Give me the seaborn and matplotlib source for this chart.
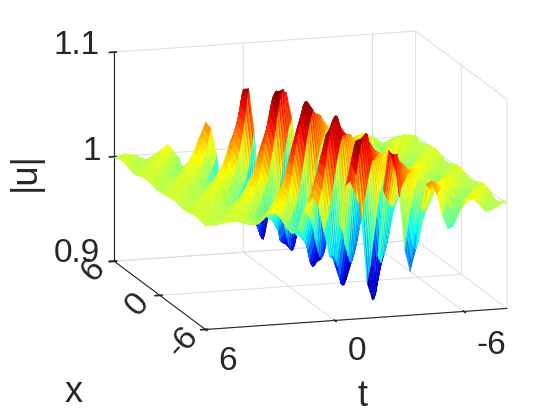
import numpy as np
import matplotlib
matplotlib.use("Agg")
import matplotlib.pyplot as plt
import seaborn as sns

# grid of the surface, finer where the ripples are strong
t_vals = [6, 5.5, 5, 4.5, 4, 3.5, 3,
          2.75, 2.5, 2.25, 2, 1.75, 1.5, 1.25, 1, 0.75, 0.5, 0.25, 0,
          -0.25, -0.5, -0.75, -1, -1.25, -1.5, -1.75, -2, -2.25, -2.5, -2.75, -3,
          -3.25, -3.5, -3.75, -4, -4.25, -4.5, -4.75, -5, -5.25, -5.5,
          -6, -6.5, -7, -7.5, -8]
x_vals = [-6, -5.5, -5, -4.5, -4, -3.5, -3, -2.5, -2, -1.5, -1, -0.5, 0,
          0.5, 1, 1.5, 2, 2.5, 3, 3.5, 4, 4.5, 5, 5.5, 6]

# |u|, as thousandths away from 1, one row per x
u_milli = [
    [-1,-1,1,1,-3,-2,7, 6,1,-8,-14,-11,2,14,19,10,-14,-38,-39,-9,28,50,38,-7,-66,-83,-41,22,59,53,14,-37,-58,-38,0,24,27,13,-7,-20,-18, 6,6,-6,-3,3],
    [0,-1,0,2,-1,-6,3, 7,7,2,-9,-17,-14,1,16,23,14,-12,-42,-47,-16,27,54,46,1,-63,-85,-48,15,53,51,18,-28,-51,-37,-4,19,23,13,-4,-17, -6,8,1,-5,0],
    [1,0,-2,1,2,-5,-5, 2,7,8,3,-9,-19,-17,-1,17,27,19,-10,-45,-55,-24,25,58,52,8,-57,-84,-54,8,46,49,20,-20,-43,-35,-7,14,20,12,-1, -14,2,5,-3,-3],
    [1,1,-2,-1,3,0,-9, -6,2,9,12,6,-9,-25,-25,-5,20,35,27,-6,-53,-69,-37,23,61,58,15,-48,-78,-52,2,35,40,19,-11,-32,-27,-8,9,15,10, -10,-6,5,1,-4],
    [0,1,0,-2,1,4,-6, -10,-8,1,10,15,8,-9,-28,-31,-10,20,40,34,0,-54,-77,-46,17,59,60,21,-38,-70,-52,-4,28,35,19,-6,-26,-25,-9,6,12, 2,-10,1,4,-1],
    [-1,1,1,-2,-2,5,2, -6,-12,-11,-1,11,17,12,-7,-31,-38,-16,19,44,41,6,-53,-82,-54,10,55,60,25,-29,-62,-50,-9,22,31,19,-2,-21,-22,-10,4, 10,-6,-6,3,2],
    [-1,0,2,0,-4,1,7, 3,-5,-14,-14,-3,11,20,15,-4,-33,-44,-23,17,47,48,13,-49,-84,-62,3,49,59,29,-20,-54,-47,-13,17,27,18,1,-16,-19,-10, 10,3,-8,-1,3],
    [0,-1,1,2,-2,-4,6, 8,4,-5,-16,-17,-5,11,23,20,-1,-35,-51,-32,14,50,55,20,-43,-84,-67,-5,43,55,30,-12,-45,-43,-15,12,22,17,2,-13,-17, 1,8,-3,-5,2],
    [1,-2,-1,3,1,-8,0, 7,11,7,-5,-20,-24,-10,13,30,28,4,-40,-65,-45,10,54,62,27,-36,-79,-66,-12,32,45,27,-5,-33,-34,-14,7,16,13,3,-8, -8,5,2,-4,-1],
    [1,0,-3,1,4,-4,-9, -1,7,13,10,-3,-22,-29,-15,12,33,34,9,-40,-72,-55,4,51,65,33,-26,-72,-64,-17,25,40,27,0,-26,-30,-15,4,13,12,4, -10,-1,4,-1,-2],
    [0,2,-2,-3,3,3,-10, -10,-3,8,15,12,-1,-23,-35,-21,10,36,41,15,-38,-77,-64,-3,48,65,37,-17,-63,-61,-21,18,34,25,3,-20,-26,-14,2,11,11, -4,-7,2,2,-2],
    [-1,2,1,-4,0,6,-3, -11,-13,-5,8,17,16,2,-25,-40,-28,8,39,48,21,-34,-79,-71,-12,42,63,40,-9,-53,-57,-24,13,29,24,5,-15,-22,-14,1,9, 4,-7,-2,3,0],
    [-1,0,2,-2,-4,4,5, -2,-12,-16,-8,7,19,20,5,-25,-46,-36,4,41,54,29,-28,-79,-76,-20,36,59,41,-1,-44,-51,-25,8,24,21,6,-11,-19,-13,-1, 8,-1,-5,1,2],
    [-1,-2,2,1,-5,-2,8, 8,-1,-15,-22,-13,7,25,28,9,-28,-58,-49,-1,44,62,37,-21,-75,-76,-27,26,49,36,4,-31,-40,-22,4,17,16,6,-7,-14,-11, 5,4,-4,-2,2],
    [0,-3,0,3,-1,-7,4, 11,10,1,-16,-26,-18,6,27,33,15,-26,-63,-59,-9,42,65,43,-12,-68,-75,-31,19,43,35,7,-25,-35,-21,1,13,15,7,-4,-12, -3,6,0,-4,0],
    [1,-1,-2,2,2,-7,-4, 5,12,13,3,-17,-30,-24,3,29,39,21,-23,-67,-69,-18,38,66,47,-2,-60,-71,-34,13,36,32,9,-18,-30,-20,-1,11,13,6,-3, -10,3,3,-3,-2],
    [1,1,-2,-1,4,-1,-10, -7,4,14,15,5,-17,-35,-30,0,30,45,28,-19,-70,-76,-28,33,64,50,4,-50,-65,-36,7,30,29,11,-13,-25,-19,-3,8,11,7, -9,-4,4,1,-3],
    [0,2,-1,-4,2,5,-8, -14,-10,3,15,19,8,-16,-39,-37,-5,31,50,35,-12,-69,-81,-36,26,60,52,10,-40,-59,-36,3,25,26,11,-9,-21,-17,-4,6,10, 0,-8,1,3,-1],
    [-2,1,2,-5,-3,8,1, -11,-20,-15,3,19,26,14,-17,-49,-51,-14,33,60,45,-5,-67,-83,-43,18,51,46,13,-28,-45,-31,-1,17,20,10,-5,-15,-13,-5,4, 5,-4,-2,2,1],
    [-2,0,3,-1,-8,3,9, 3,-11,-22,-19,0,21,31,19,-14,-53,-60,-22,31,62,51,3,-60,-82,-47,11,44,42,15,-20,-39,-29,-4,13,17,10,-2,-12,-13,-5, 6,1,-4,0,2],
    [-1,-2,2,3,-6,-6,9, 12,5,-11,-25,-24,-3,21,35,25,-10,-55,-68,-32,26,62,56,10,-52,-78,-48,5,36,39,16,-14,-33,-26,-6,10,15,9,0,-10,-10, 2,4,-2,-2,1],
    [1,-2,-1,4,1,-10,1, 11,14,7,-10,-28,-30,-8,21,40,32,-5,-57,-76,-41,21,61,59,16,-43,-71,-49,0,30,35,17,-9,-27,-24,-7,7,13,9,1,-7, -5,3,1,-2,0],
    [2,0,-4,1,5,-6,-9, 1,12,17,10,-9,-32,-37,-13,21,45,39,2,-57,-82,-50,15,57,59,22,-33,-63,-48,-6,23,31,18,-4,-22,-21,-8,5,10,9,1, -8,0,3,-1,-2],
    [1,1,-3,-3,5,3,-13, -15,-1,14,23,16,-8,-39,-49,-23,22,53,50,9,-55,-86,-57,8,49,53,23,-22,-49,-40,-8,16,23,14,-1,-15,-17,-7,3,7,6, -4,-4,2,1,-2],
    [-1,2,0,-5,1,8,-5, -19,-19,-4,14,27,21,-4,-42,-57,-31,19,56,56,16,-49,-84,-60,1,42,50,25,-14,-41,-37,-11,12,20,13,1,-12,-14,-8,2,6, 2,-5,0,2,0],
]
jet_colors = ["#000080", "#0000ff", "#0080ff", "#00ffff", "#80ff80",
              "#ffff00", "#ff8000", "#ff0000", "#800000"]

sns.set_theme(style="white", rc={"grid.color": "#dcdcdc", "grid.linewidth": 0.7})
plt.rcParams["font.family"] = ["Liberation Sans", "DejaVu Sans"]
dark = "#262626"

fig = plt.figure(figsize=(5.6, 4.2), dpi=100)
ax = fig.add_axes([0.1694, 0.0573, 0.75, 1.0], projection="3d", proj_type="ortho")
ax.view_init(elev=13.2, azim=-107)
ax.set_box_aspect((313.7, 311, 213.7), zoom=1.14)

T, X = np.meshgrid(t_vals, x_vals)
Z = 1 + np.array(u_milli) / 1000

# split every grid cell along the crests, they run corner to corner
n_x, n_t = T.shape
idx = np.arange(n_x * n_t).reshape(n_x, n_t)
a, b = idx[:-1, :-1].ravel(), idx[:-1, 1:].ravel()
c, d = idx[1:, :-1].ravel(), idx[1:, 1:].ravel()
tris = np.vstack([np.column_stack([a, b, d]), np.column_stack([a, d, c])])

surf = ax.plot_trisurf(T.ravel(), X.ravel(), Z.ravel(), triangles=tris, shade=False,
                       cmap=sns.blend_palette(jet_colors, as_cmap=True),
                       vmin=0.92, vmax=1.06, linewidth=0, antialiased=True)
surf.set_edgecolor("face")
surf.set_linewidth(0.3)

ax.set_xlim(6, -8)
ax.set_ylim(-6, 6)
ax.set_zlim(0.9, 1.1)
ax.set_xticks([6, 0, -6])
ax.set_yticks([-6, 0, 6])
ax.set_zticks([0.9, 1, 1.1])
ax.set_xticklabels([])
ax.set_yticklabels([])
ax.set_zticklabels([])
ax.tick_params(colors=dark)
ax.grid(True)
for axis in (ax.xaxis, ax.yaxis, ax.zaxis):
    axis.set_pane_color((1, 1, 1, 0))
    axis.pane.set_edgecolor("#dcdcdc")
    axis.line.set_color(dark)
    axis.line.set_linewidth(0.8)


def label(px, py, s, size=24, rot=0):
    fig.text(px / 560, 1 - py / 420, s, fontsize=size, color=dark, rotation=rot,
             ha="center", va="center")


for px, py, s in [(77, 45, "1.1"), (92, 151, "1"), (77, 254, "0.9"),
                  (228, 362, "6"), (357, 352, "0"), (491, 346, "-6")]:
    label(px, py, s)
for px, py, s in [(93, 270, "6"), (138, 304, "0"), (183, 342, "-6")]:
    label(px, py, s, rot=48)
label(25, 172, "|u|", size=26, rot=90)
label(74, 393, "x", size=26)
label(363, 397, "t", size=26)
fig.savefig("out.png", dpi=100)
